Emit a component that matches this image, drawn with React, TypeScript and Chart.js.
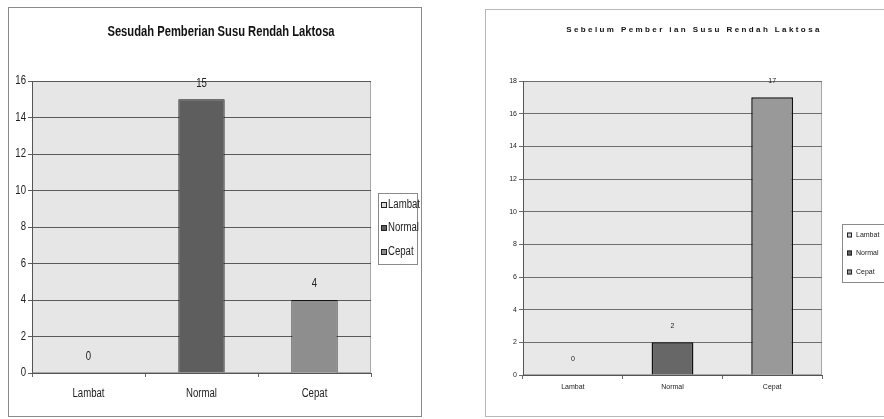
import React, { useEffect, useRef } from 'react';
import { Chart, registerables } from 'chart.js';

Chart.register(...registerables);

// Categories shared by both panels
const categories = ['Lambat', 'Normal', 'Cepat'];

// Counts after the low-lactose milk was given
const sesudahValues = [0, 15, 4];
// Counts before the low-lactose milk was given
const sebelumValues = [0, 2, 17];

const sesudahTitle = 'Sesudah Pemberian Susu Rendah Laktosa';
const sebelumTitle = 'Sebelum Pember ian Susu Rendah Laktosa';

const sesudahYMax = 16;
const sebelumYMax = 18;
const yStep = 2;

type PanelSpec = {
  title: string;
  values: number[];
  yMax: number;
  box: { left: number; top: number; width: number; height: number };
  area: { left: number; top: number; right: number; bottom: number };
  barPct: number;
  barBorder: number;
  colors: string[];
  frameColor: string;
  gridColor: string;
  plotBg: string;
  font: string;
  squeeze: number; // horizontal text compression (narrow face)
  tickSize: number;
  yLabelGap: number;
  xLabelY: number;
  labelSize: number;
  titleSize: number;
  titleSpacing: string;
  titlePos: { x: number; y: number };
  legend: { x: number; y: number; w: number; h: number; rows: number[]; swX: number; sw: number; textX: number; size: number };
};

const sans = "'Liberation Sans', Arial, sans-serif";

const sesudahSpec: PanelSpec = {
  title: sesudahTitle,
  values: sesudahValues,
  yMax: sesudahYMax,
  box: { left: 8, top: 7, width: 414, height: 410 },
  area: { left: 24, top: 74, right: 363, bottom: 366 },
  barPct: 0.41,
  barBorder: 1,
  colors: ['#d8d8e0', '#5e5e5e', '#8e8e8e'],
  frameColor: '#8a8a8a',
  gridColor: '#5a5a5a',
  plotBg: '#e6e6e6',
  font: sans,
  squeeze: 0.8,
  tickSize: 12,
  yLabelGap: 6,
  xLabelY: 387,
  labelSize: 12,
  titleSize: 14,
  titleSpacing: '0px',
  titlePos: { x: 213, y: 25 },
  legend: { x: 370, y: 186, w: 39, h: 71, rows: [198, 221, 245], swX: 373, sw: 6, textX: 380, size: 12 },
};

const sebelumSpec: PanelSpec = {
  title: sebelumTitle,
  values: sebelumValues,
  yMax: sebelumYMax,
  box: { left: 485, top: 9, width: 410, height: 408 },
  area: { left: 38, top: 72, right: 337, bottom: 366 },
  barPct: 0.42,
  barBorder: 1.5,
  colors: ['#c8c8d0', '#676767', '#999999'],
  frameColor: '#b8b8b8',
  gridColor: '#6e6e6e',
  plotBg: '#e8e8e8',
  font: sans,
  squeeze: 1,
  tickSize: 7,
  yLabelGap: 6,
  xLabelY: 378,
  labelSize: 7,
  titleSize: 8,
  titleSpacing: '2.4px',
  titlePos: { x: 209, y: 21 },
  legend: { x: 357, y: 215, w: 60, h: 58, rows: [226, 244, 263], swX: 362, sw: 5, textX: 371, size: 7 },
};

function drawText(
  ctx: CanvasRenderingContext2D,
  text: string,
  x: number,
  y: number,
  font: string,
  squeeze: number,
  align: CanvasTextAlign,
) {
  ctx.save();
  ctx.font = font;
  ctx.textAlign = align;
  ctx.textBaseline = 'middle';
  ctx.translate(x, y);
  ctx.scale(squeeze, 1);
  ctx.fillText(text, 0, 0);
  ctx.restore();
}

function ChartPanel({ spec }: { spec: PanelSpec }) {
  const ref = useRef<HTMLCanvasElement | null>(null);

  useEffect(() => {
    const canvas = ref.current;
    if (!canvas) return;
    const { box, area } = spec;

    const decor = {
      id: 'panelDecor',
      beforeDraw(chart: any) {
        const { ctx, chartArea } = chart;
        ctx.save();
        ctx.fillStyle = '#ffffff';
        ctx.fillRect(0, 0, box.width, box.height);
        ctx.fillStyle = spec.plotBg;
        ctx.fillRect(chartArea.left, chartArea.top, chartArea.right - chartArea.left, chartArea.bottom - chartArea.top);
        ctx.strokeStyle = '#a8a8a8';
        ctx.lineWidth = 1;
        ctx.strokeRect(chartArea.left + 0.5, chartArea.top + 0.5, chartArea.right - chartArea.left - 1, chartArea.bottom - chartArea.top - 1);
        ctx.restore();
      },
      afterDatasetsDraw(chart: any) {
        const { ctx } = chart;
        const meta = chart.getDatasetMeta(0);
        ctx.save();
        ctx.fillStyle = '#222';
        meta.data.forEach((bar: any, i: number) => {
          drawText(ctx, String(spec.values[i]), bar.x, bar.y - 16, `${spec.labelSize}px ${spec.font}`, spec.squeeze, 'center');
        });
        ctx.restore();
      },
      afterDraw(chart: any) {
        const { ctx, chartArea } = chart;
        const xs = chart.scales.x;
        const ys = chart.scales.y;
        ctx.save();
        ctx.fillStyle = '#222';
        // axis labels
        ys.ticks.forEach((t: any) => {
          drawText(ctx, String(t.value), chartArea.left - spec.yLabelGap, ys.getPixelForValue(t.value), `${spec.tickSize}px ${spec.font}`, spec.squeeze, 'right');
        });
        categories.forEach((c, i) => {
          drawText(ctx, c, xs.getPixelForTick(i), spec.xLabelY, `${spec.tickSize}px ${spec.font}`, spec.squeeze, 'center');
        });
        // frame around the panel
        ctx.strokeStyle = spec.frameColor;
        ctx.lineWidth = 1;
        ctx.strokeRect(0.5, 0.5, box.width - 1, box.height - 1);
        // title
        ctx.fillStyle = '#111';
        (ctx as any).letterSpacing = spec.titleSpacing;
        drawText(ctx, spec.title, spec.titlePos.x, spec.titlePos.y, `bold ${spec.titleSize}px ${spec.font}`, spec.squeeze, 'center');
        (ctx as any).letterSpacing = '0px';
        // legend
        const lg = spec.legend;
        ctx.strokeStyle = '#8a8a8a';
        ctx.strokeRect(lg.x + 0.5, lg.y + 0.5, lg.w, lg.h);
        categories.forEach((c, i) => {
          const y = lg.rows[i];
          ctx.fillStyle = spec.colors[i];
          ctx.fillRect(lg.swX, y - lg.sw / 2, lg.sw, lg.sw);
          ctx.strokeStyle = '#222';
          ctx.strokeRect(lg.swX + 0.5, y - lg.sw / 2 + 0.5, lg.sw - 1, lg.sw - 1);
          ctx.fillStyle = '#222';
          drawText(ctx, c, lg.textX, y, `${lg.size}px ${spec.font}`, spec.squeeze, 'left');
        });
        ctx.restore();
      },
    };

    const chart = new Chart(canvas, {
      type: 'bar',
      data: {
        labels: categories,
        datasets: [
          {
            data: spec.values,
            backgroundColor: spec.colors,
            borderColor: '#111',
            borderWidth: spec.barBorder,
            categoryPercentage: 1,
            barPercentage: spec.barPct,
          },
        ],
      },
      options: {
        animation: false,
        responsive: false,
        maintainAspectRatio: false,
        layout: {
          padding: { left: 0, top: area.top, right: box.width - area.right, bottom: 0 },
        },
        plugins: {
          legend: { display: false },
          title: { display: false },
          tooltip: { enabled: false },
        },
        scales: {
          x: {
            grid: { display: true, drawOnChartArea: false, tickLength: 4, color: '#666', offset: true },
            border: { display: true, color: '#555' },
            ticks: { display: false },
            afterFit(scale: any) {
              scale.height = box.height - area.bottom;
            },
          },
          y: {
            min: 0,
            max: spec.yMax,
            grid: { color: spec.gridColor, tickLength: 4, lineWidth: 1 },
            border: { display: true, color: '#555' },
            ticks: { display: false, stepSize: yStep },
            afterFit(scale: any) {
              scale.width = area.left;
            },
          },
        },
      },
      plugins: [decor],
    } as any);

    return () => chart.destroy();
  }, [spec]);

  return (
    <canvas
      ref={ref}
      width={spec.box.width}
      height={spec.box.height}
      style={{ position: 'absolute', left: spec.box.left, top: spec.box.top, width: spec.box.width, height: spec.box.height }}
    />
  );
}

export default function App() {
  return (
    <div style={{ position: 'absolute', left: 0, top: 0, width: 884, height: 419, background: '#fff', overflow: 'hidden' }}>
      <ChartPanel spec={sesudahSpec} />
      <ChartPanel spec={sebelumSpec} />
    </div>
  );
}
